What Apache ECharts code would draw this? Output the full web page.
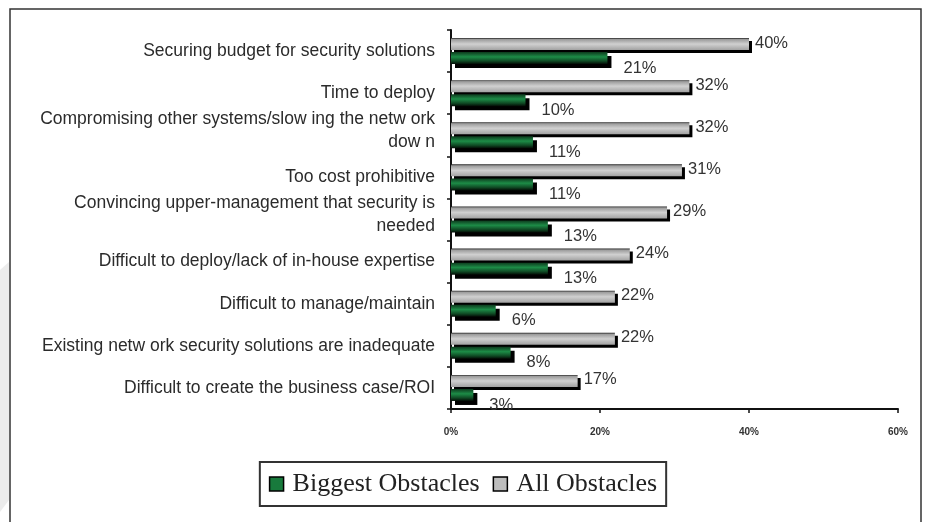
<!DOCTYPE html>
<html>
<head>
<meta charset="utf-8">
<script src="https://cdn.jsdelivr.net/npm/echarts@6/dist/echarts.min.js"></script>
<style>
html,body{margin:0;padding:0;background:#fff;}
#chart{width:926px;height:522px;}
</style>
</head>
<body>
<div id="chart"></div>
<script>
const categories = [
  'Securing budget for security solutions',
  'Time to deploy',
  'Compromising other systems/slow ing the netw ork\ndow n',
  'Too cost prohibitive',
  'Convincing upper-management that security is\nneeded',
  'Difficult to deploy/lack of in-house expertise',
  'Difficult to manage/maintain',
  'Existing netw ork security solutions are inadequate',
  'Difficult to create the business case/ROI'
];
const allObstacles = [40, 32, 32, 31, 29, 24, 22, 22, 17];
const biggestObstacles = [21, 10, 11, 11, 13, 13, 6, 8, 3];
const seriesNames = ['Biggest Obstacles', 'All Obstacles'];
const xMin = 0, xMax = 60, xStep = 20;

const chart = echarts.init(document.getElementById('chart'));

const grayFill = new echarts.graphic.LinearGradient(0, 0, 0, 1, [
  {offset: 0, color: '#222'},
  {offset: 0.12, color: '#9c9c9c'},
  {offset: 0.5, color: '#d0d0d0'},
  {offset: 1, color: '#a2a2a2'}
]);
const greenFill = new echarts.graphic.LinearGradient(0, 0, 0, 1, [
  {offset: 0, color: '#0d3a1d'},
  {offset: 0.4, color: '#1d8c47'},
  {offset: 0.75, color: '#0f4a24'},
  {offset: 1, color: '#030b05'}
]);

chart.setOption({
  animation: false,
  backgroundColor: '#fff',
  graphic: [
    {type: 'polygon', z: 0, shape: {points: [[0, 270], [9, 262], [9, 500], [0, 512]]},
     style: {fill: '#ececec'}},
    {type: 'rect', z: 1, shape: {x: 10, y: 9, width: 911, height: 530},
     style: {fill: 'none', stroke: '#333', lineWidth: 1.5}}
  ],
  grid: {left: 451, right: 28, top: 30, bottom: 113},
  legend: {
    left: 'center',
    top: 462,
    padding: [9, 9, 9, 9],
    itemGap: 13,
    itemWidth: 14,
    itemHeight: 14,
    borderColor: '#333',
    borderWidth: 2,
    icon: 'rect',
    textStyle: {fontFamily: 'Liberation Serif', fontSize: 26, color: '#222', padding: [0, 0, 0, 4]},
    data: [
      {name: seriesNames[0], itemStyle: {color: '#187a3c', borderColor: '#000', borderWidth: 1.5, shadowColor: 'transparent', shadowOffsetX: 0, shadowOffsetY: 0}},
      {name: seriesNames[1], itemStyle: {color: '#bdbdbd', borderColor: '#000', borderWidth: 1.5, shadowColor: 'transparent', shadowOffsetX: 0, shadowOffsetY: 0}}
    ]
  },
  xAxis: {
    type: 'value',
    min: xMin, max: xMax, interval: xStep,
    splitLine: {show: false},
    axisLine: {show: true, lineStyle: {color: '#111', width: 2}},
    axisTick: {show: true, length: 4, lineStyle: {color: '#111', width: 1.5}},
    axisLabel: {formatter: '{value}%', fontFamily: 'Liberation Sans', fontSize: 10, fontWeight: 'bold', color: '#333', margin: 18}
  },
  yAxis: {
    type: 'category',
    inverse: true,
    data: categories,
    axisLine: {show: true, lineStyle: {color: '#111', width: 2}},
    axisTick: {show: true, length: 4, lineStyle: {color: '#111', width: 1.5}},
    axisLabel: {
      fontFamily: 'Liberation Sans', fontSize: 17.5, color: '#2b2b2b', lineHeight: 23, margin: 16, align: 'right',
      formatter: function (v) { return v.indexOf('\n') >= 0 ? v + '\n{s| }' : v; },
      rich: {s: {lineHeight: 10, fontSize: 8}}
    }
  },
  series: [
    {
      name: seriesNames[1],
      type: 'bar',
      data: allObstacles,
      barWidth: 12,
      barGap: '17%',
      itemStyle: {color: grayFill, shadowColor: '#000', shadowOffsetX: 3, shadowOffsetY: 3, shadowBlur: 0},
      label: {show: true, position: 'right', distance: 6, offset: [0, -1], formatter: '{c}%', fontFamily: 'Liberation Sans', fontSize: 16.5, color: '#333'}
    },
    {
      name: seriesNames[0],
      type: 'bar',
      data: biggestObstacles,
      barWidth: 12,
      itemStyle: {color: greenFill, shadowColor: '#000', shadowOffsetX: 4, shadowOffsetY: 4, shadowBlur: 0},
      label: {show: true, position: 'right', distance: 5, offset: [11, 10], formatter: '{c}%', fontFamily: 'Liberation Sans', fontSize: 16.5, color: '#333'}
    }
  ]
});
</script>
</body>
</html>
